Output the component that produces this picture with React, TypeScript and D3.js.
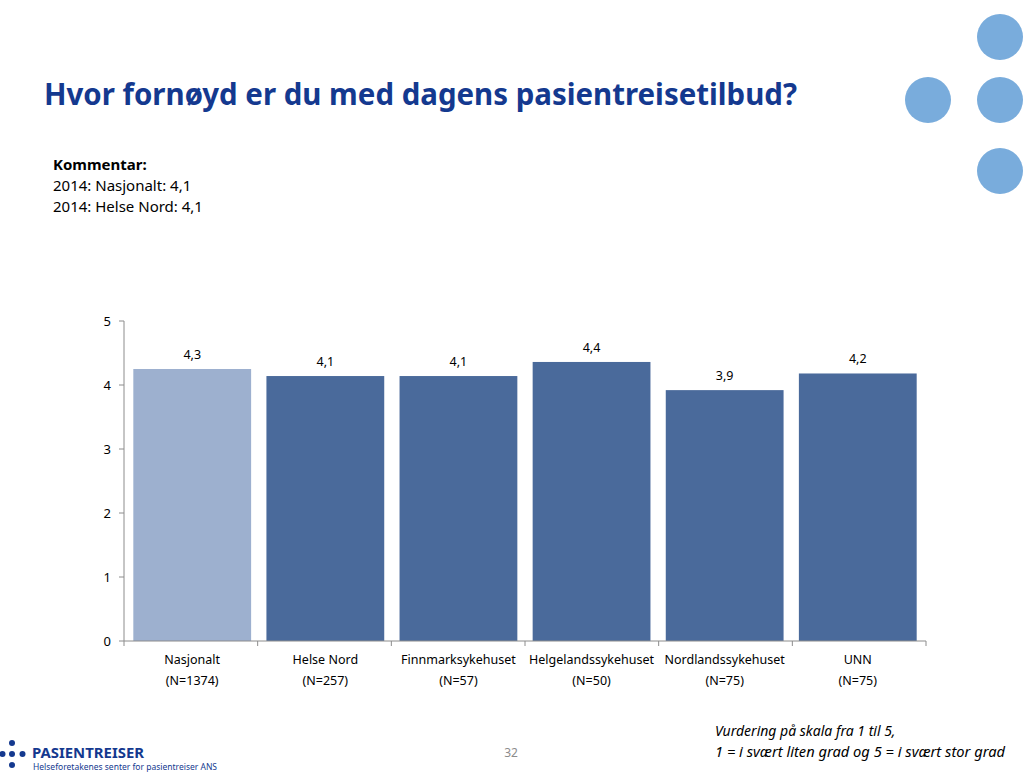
import React from 'react';
import * as d3 from 'd3';

const categories = ['Nasjonalt', 'Helse Nord', 'Finnmarksykehuset', 'Helgelandssykehuset', 'Nordlandssykehuset', 'UNN'];
const counts = ['(N=1374)', '(N=257)', '(N=57)', '(N=50)', '(N=75)', '(N=75)'];
const values = [4.25, 4.14, 4.14, 4.36, 3.92, 4.18];
const valueLabels = ['4,3', '4,1', '4,1', '4,4', '3,9', '4,2'];
const yTicks = [0, 1, 2, 3, 4, 5];
const comments = ['2014: Nasjonalt: 4,1', '2014: Helse Nord: 4,1'];

const FONT = "'Liberation Sans Narrow', 'Noto Sans', sans-serif";
const TITLE_BLUE = '#14398f';

const App: React.FC = () => {
    const margin = { left: 124, right: 98, top: 321, bottom: 133 };
    const width = 1024;
    const height = 774;

    // scales for the bar chart
    const x = d3
        .scaleBand()
        .domain(categories)
        .range([margin.left, width - margin.right])
        .paddingInner(0.115)
        .paddingOuter(0.07);
    const y = d3
        .scaleLinear()
        .domain([0, 5])
        .range([height - margin.bottom, margin.top]);

    const x0 = margin.left;
    const x1 = width - margin.right;
    const boundaries = d3.range(categories.length + 1).map((i) => x0 + i * ((x1 - x0) / categories.length));
    const mid = (c: string) => (x(c) ?? 0) + x.bandwidth() / 2;

    return (
        <svg width={width} height={height} style={{ position: 'absolute', left: 0, top: 0, background: '#fff' }}>
            {/* decorative circles */}
            <g fill="#79acdc">
                <circle cx={1000} cy={37} r={23} />
                <circle cx={928} cy={100} r={23} />
                <circle cx={1000} cy={100} r={23} />
                <circle cx={1000} cy={171} r={23} />
            </g>

            <text x={44} y={105} fontFamily={FONT} fontWeight="bold" fontSize={30} fill={TITLE_BLUE} textLength={753} lengthAdjust="spacingAndGlyphs">
                Hvor fornøyd er du med dagens pasientreisetilbud?
            </text>

            <g fontFamily={FONT} fontSize={15} fill="#000">
                <text x={53} y={170} fontWeight="bold">Kommentar:</text>
                {comments.map((c, i) => (
                    <text key={c} x={53} y={191 + i * 21}>{c}</text>
                ))}
            </g>

            {/* y axis */}
            <g fontFamily={FONT} fontSize={13} fill="#000">
                <line x1={x0} x2={x0} y1={y(5)} y2={y(0)} stroke="#8c8c8c" />
                {yTicks.map((t) => (
                    <g key={t}>
                        <line x1={x0 - 5} x2={x0} y1={y(t)} y2={y(t)} stroke="#8c8c8c" />
                        <text x={x0 - 13} y={y(t) + 4.5} textAnchor="end">{t}</text>
                    </g>
                ))}
            </g>

            {/* bars */}
            {categories.map((c, i) => (
                <rect
                    key={c}
                    x={x(c)}
                    y={y(values[i])}
                    width={x.bandwidth()}
                    height={y(0) - y(values[i])}
                    fill={i === 0 ? '#9db0cf' : '#4a6a9b'}
                />
            ))}

            {/* value labels */}
            <g fontFamily={FONT} fontSize={12.5} fill="#000" textAnchor="middle">
                {categories.map((c, i) => (
                    <text key={c} x={mid(c)} y={y(values[i]) - 10}>{valueLabels[i]}</text>
                ))}
            </g>

            {/* x axis */}
            <line x1={x0} x2={x1} y1={y(0)} y2={y(0)} stroke="#8c8c8c" />
            {boundaries.map((b, i) => (
                <line key={i} x1={b} x2={b} y1={y(0)} y2={y(0) + 5} stroke="#8c8c8c" />
            ))}
            <g fontFamily={FONT} fontSize={12.5} fill="#000" textAnchor="middle">
                {categories.map((c, i) => (
                    <g key={c}>
                        <text x={mid(c)} y={664}>{c}</text>
                        <text x={mid(c)} y={685}>{counts[i]}</text>
                    </g>
                ))}
            </g>

            {/* footer */}
            <g fill={TITLE_BLUE}>
                <circle cx={12} cy={743} r={3} />
                <circle cx={2.5} cy={754} r={3} />
                <circle cx={12} cy={754} r={3} />
                <circle cx={22.5} cy={754} r={3} />
                <circle cx={12} cy={765} r={3} />
            </g>
            <text x={32} y={758} fontFamily={FONT} fontWeight="bold" fontSize={14} fill={TITLE_BLUE} textLength={112} lengthAdjust="spacingAndGlyphs">PASIENTREISER</text>
            <text x={33} y={770} fontFamily={FONT} fontSize={8} fill={TITLE_BLUE} textLength={184} lengthAdjust="spacingAndGlyphs">Helseforetakenes senter for pasientreiser ANS</text>
            <text x={511} y={757} fontFamily={FONT} fontSize={12} fill="#8c8c8c" textAnchor="middle">32</text>
            <g fontFamily={FONT} fontSize={14} fontStyle="italic" fill="#000">
                <text x={715} y={736}>Vurdering på skala fra 1 til 5,</text>
                <text x={715} y={757} textLength={290} lengthAdjust="spacingAndGlyphs">1 = i svært liten grad og 5 = i svært stor grad</text>
            </g>
        </svg>
    );
};

export default App;
